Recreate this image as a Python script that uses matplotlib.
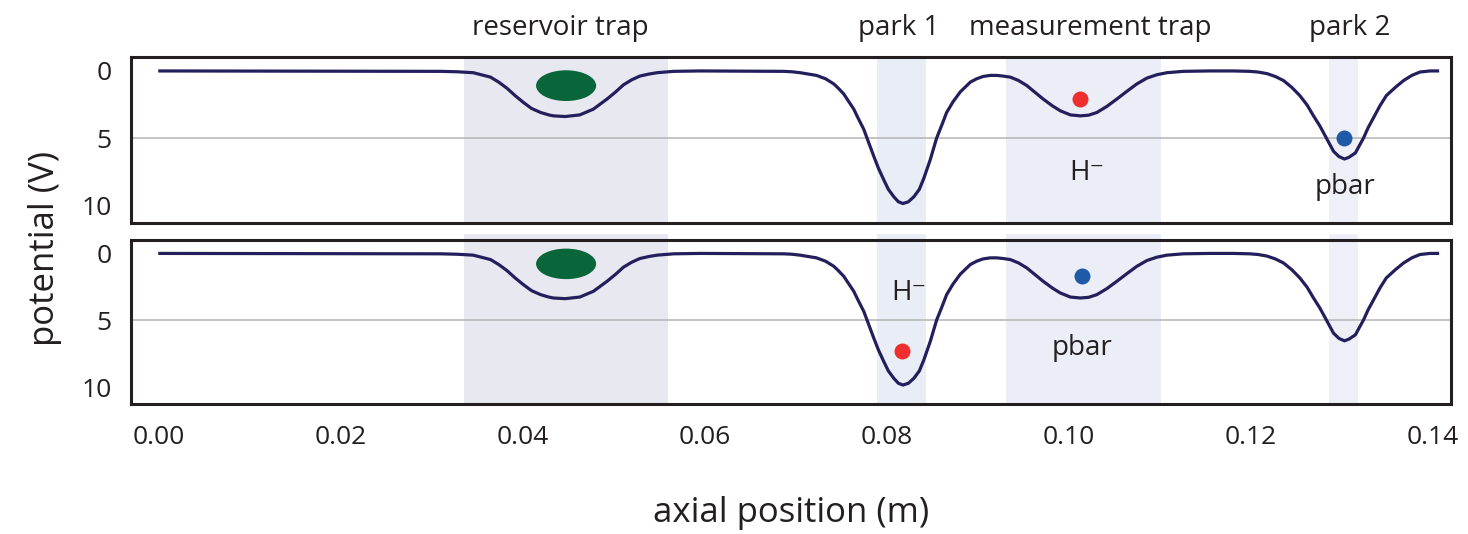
import matplotlib
matplotlib.use('Agg')
import matplotlib.pyplot as plt
from matplotlib.patches import Ellipse
from matplotlib.transforms import blended_transform_factory

plt.rcParams['font.family'] = ['Open Sans', 'DejaVu Sans']

# potential along the trap axis (same in both panels)
axial_m = [0.0000, 0.0310, 0.0328, 0.0346, 0.0365, 0.0374, 0.0383, 0.0392, 0.0401, 0.0410,
           0.0420, 0.0429, 0.0434, 0.0447, 0.0463, 0.0478, 0.0485, 0.0493, 0.0502, 0.0511,
           0.0520, 0.0529, 0.0539, 0.0548, 0.0566, 0.0595, 0.0687, 0.0696, 0.0705, 0.0714,
           0.0723, 0.0733, 0.0742, 0.0747, 0.0753, 0.0764, 0.0769, 0.0775, 0.0786, 0.0791,
           0.0797, 0.0802, 0.0808, 0.0813, 0.0818, 0.0824, 0.0830, 0.0836, 0.0841, 0.0848,
           0.0855, 0.0861, 0.0866, 0.0873, 0.0881, 0.0887, 0.0892, 0.0899, 0.0906, 0.0914,
           0.0921, 0.0928, 0.0936, 0.0945, 0.0954, 0.0963, 0.0972, 0.0982, 0.0991, 0.1002,
           0.1013, 0.1022, 0.1031, 0.1042, 0.1053, 0.1064, 0.1075, 0.1086, 0.1097, 0.1108,
           0.1126, 0.1155, 0.1181, 0.1199, 0.1208, 0.1218, 0.1227, 0.1236, 0.1245, 0.1254,
           0.1262, 0.1269, 0.1276, 0.1282, 0.1291, 0.1297, 0.1303, 0.1308, 0.1315, 0.1324,
           0.1329, 0.1335, 0.1342, 0.1349, 0.1359, 0.1368, 0.1377, 0.1386, 0.1397, 0.1407]
potential_v = [0.00, 0.03, 0.06, 0.13, 0.46, 0.83, 1.28, 1.83, 2.33, 2.78,
               3.08, 3.26, 3.33, 3.38, 3.26, 2.83, 2.48, 2.08, 1.58, 1.03,
               0.66, 0.38, 0.23, 0.13, 0.03, 0.00, 0.03, 0.06, 0.13, 0.23,
               0.33, 0.58, 0.96, 1.28, 1.71, 2.83, 3.53, 4.33, 6.33, 7.20,
               8.08, 8.78, 9.33, 9.70, 9.83, 9.70, 9.33, 8.78, 7.95, 6.58,
               4.98, 3.96, 3.08, 2.29, 1.55, 1.16, 0.83, 0.58, 0.41, 0.33,
               0.33, 0.38, 0.46, 0.71, 1.08, 1.58, 2.08, 2.58, 2.96, 3.26,
               3.33, 3.28, 3.08, 2.63, 2.08, 1.51, 0.96, 0.53, 0.28, 0.13,
               0.03, 0.00, 0.00, 0.03, 0.08, 0.20, 0.41, 0.71, 1.21, 1.83,
               2.53, 3.33, 4.08, 4.83, 5.96, 6.35, 6.53, 6.40, 6.08, 4.96,
               4.21, 3.46, 2.58, 1.83, 1.21, 0.71, 0.33, 0.08, 0.00, 0.00]

# trap regions
trap_names = ['reservoir trap', 'park 1', 'measurement trap', 'park 2']
trap_lo = [0.0336, 0.0789, 0.0931, 0.1286]
trap_hi = [0.0560, 0.0843, 0.1101, 0.1318]
trap_label_x = [0.0442, 0.0813, 0.1024, 0.1309]
trap_colors = ['#e8e9f0', '#e8edf6', '#ebeef6', '#eff0f7']

# particles: reservoir cloud, H- (red), pbar (blue)
cloud_x = [0.0448, 0.0448]
cloud_v = [1.09, 0.78]
hminus_x = [0.1013, 0.0817]
hminus_v = [2.08, 7.32]
pbar_x = [0.1303, 0.1015]
pbar_v = [4.96, 1.72]

# text labels next to particles
hminus_lab_x = [0.1020, 0.0825]
hminus_lab_v = [8.1, 3.46]
pbar_lab_x = [0.1304, 0.1015]
pbar_lab_v = [9.09, 7.6]

xticks = [0.00, 0.02, 0.04, 0.06, 0.08, 0.10, 0.12, 0.14]
yticks = [0, 5, 10]

txt_col = '#231f20'
line_col = '#231f5c'

fig = plt.figure(figsize=(14.68, 5.34), dpi=100)
ax_top = fig.add_axes([0.0892, 0.583, 0.8992, 0.3094])
ax_bot = fig.add_axes([0.0892, 0.2434, 0.8992, 0.3071])

for i, ax in enumerate([ax_top, ax_bot]):
    ax.set_xlim(-0.003, 0.142)
    ax.set_ylim(11.25, -1.0)

    # shaded trap regions
    for lo, hi, c in zip(trap_lo, trap_hi, trap_colors):
        top = 1.0 if i == 0 else 1.037
        ax.axvspan(lo, hi, ymin=0.0, ymax=top, color=c, lw=0, zorder=0, clip_on=False)

    ax.axhline(5, color='#b4b4b4', lw=1.1, zorder=1)
    ax.plot(axial_m, potential_v, color=line_col, lw=2.3,
            solid_joinstyle='round', solid_capstyle='butt', zorder=3)

    ax.add_patch(Ellipse((cloud_x[i], cloud_v[i]), 0.0066, 2.28, color='#09663a', lw=0, zorder=4))
    ax.plot(hminus_x[i], hminus_v[i], 'o', color='#ee2e2f', ms=11.5, mew=0, zorder=4)
    ax.plot(pbar_x[i], pbar_v[i], 'o', color='#1e5aa8', ms=11.5, mew=0, zorder=4)

    ax.text(hminus_lab_x[i], hminus_lab_v[i], 'H\u207b', fontsize=20, color=txt_col,
            ha='center', va='baseline', zorder=5)
    ax.text(pbar_lab_x[i], pbar_lab_v[i], 'pbar', fontsize=20, color=txt_col,
            ha='center', va='baseline', zorder=5)

    ax.set_yticks(yticks)
    ax.set_yticklabels([str(v) for v in yticks])
    ax.set_xticks(xticks)
    ax.tick_params(axis='both', length=0, labelsize=19, colors=txt_col)
    ax.tick_params(axis='y', pad=14)
    ax.tick_params(axis='x', pad=15)
    for sp in ax.spines.values():
        sp.set_linewidth(2.2)
        sp.set_color(txt_col)
        sp.set_zorder(6)

ax_top.set_xticklabels([])
ax_bot.set_xticklabels(['%.2f' % t for t in xticks])

# trap names above the top panel
trans = blended_transform_factory(ax_top.transData, fig.transFigure)
for name, xl in zip(trap_names, trap_label_x):
    ax_top.text(xl, 1 - 35 / 534, name, transform=trans, fontsize=20, color=txt_col,
                ha='center', va='baseline')

fig.text(45 / 1468, 1 - 248 / 534, 'potential (V)', rotation=90, fontsize=25,
         color=txt_col, ha='center', va='center')
fig.text(791 / 1468, 1 - 513 / 534, 'axial position (m)', fontsize=25,
         color=txt_col, ha='center', va='center')

fig.savefig('out.png', dpi=100)
